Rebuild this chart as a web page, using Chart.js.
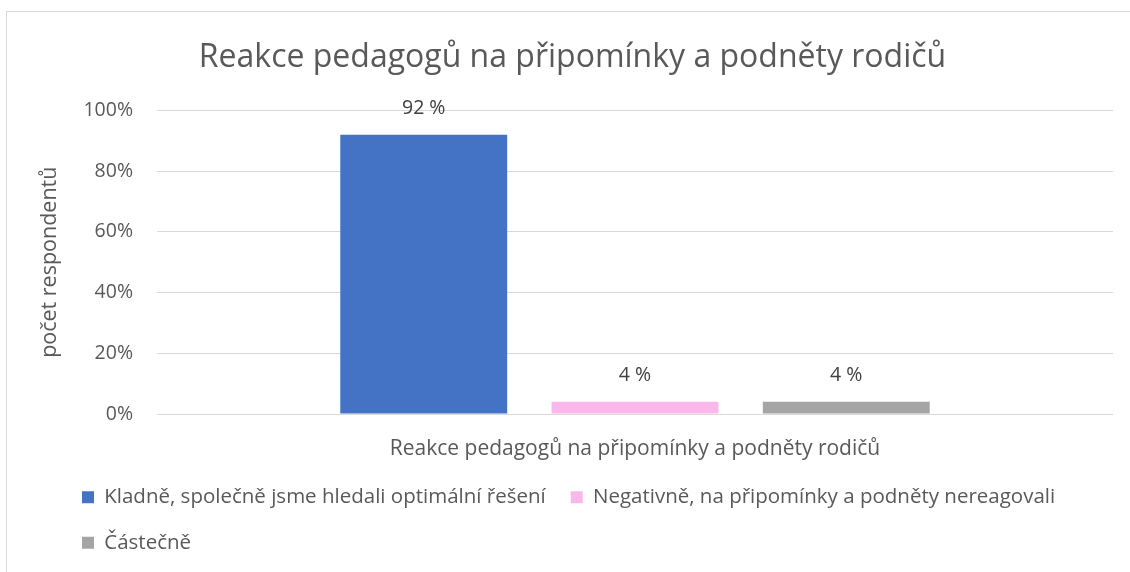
<!DOCTYPE html>
<html>
<head>
<meta charset="utf-8">
<script src="https://cdn.jsdelivr.net/npm/chart.js@4"></script>
<style>
  body { margin: 0; background: #fff; overflow: hidden; width: 1130px; height: 572px; }
  #frame { position: absolute; left: 6px; top: 11px; border-left: 1px solid #d9d9d9; border-top: 1px solid #d9d9d9; }
  canvas { display: block; }
</style>
</head>
<body>
<div id="frame"><canvas id="chart" width="1131" height="568"></canvas></div>
<script>
const categories = ["Reakce pedagogů na připomínky a podněty rodičů"];
const seriesNames = [
  "Kladně, společně jsme hledali optimální řešení",
  "Negativně, na připomínky a podněty nereagovali",
  "Částečně"
];
const positive = [92];
const negative = [4];
const partial = [4];
const seriesColors = ["#4472C4", "#FAB8EA", "#A5A5A5"];

const font = "'Open Sans', 'Noto Sans', sans-serif";
const grey = "#595959";

// data labels above the bars ("92 %")
const barLabels = {
  id: "barLabels",
  afterDatasetsDraw(chart) {
    const ctx = chart.ctx;
    ctx.save();
    ctx.font = "19.5px " + font;
    ctx.fillStyle = "#404040";
    ctx.textAlign = "center";
    ctx.textBaseline = "middle";
    chart.data.datasets.forEach((ds, i) => {
      chart.getDatasetMeta(i).data.forEach((bar, j) => {
        ctx.fillText(ds.data[j] + " %", bar.x, bar.y - 26);
      });
    });
    ctx.restore();
  }
};

// Excel-like legend: indented on the left, wraps after two items
const legendWidth = 1065;
const legendIndent = {
  id: "legendIndent",
  beforeLayout(chart) {
    const lg = chart.legend;
    if (!lg || lg._narrowFit) return;
    const fit = lg.fit.bind(lg);
    lg.fit = function () {
      this.maxWidth = Math.min(this.maxWidth, legendWidth);
      fit();
    };
    lg._narrowFit = true;
  },
  afterLayout(chart) {
    const lg = chart.legend;
    if (!lg) return;
    lg.left = 50;
    lg.right = 50 + legendWidth;
  }
};

new Chart(document.getElementById("chart"), {
  type: "bar",
  data: {
    labels: categories,
    datasets: [
      { label: seriesNames[0], data: positive, backgroundColor: seriesColors[0] },
      { label: seriesNames[1], data: negative, backgroundColor: seriesColors[1] },
      { label: seriesNames[2], data: partial, backgroundColor: seriesColors[2] }
    ]
  },
  options: {
    responsive: false,
    devicePixelRatio: 1,
    animation: false,
    categoryPercentage: 0.663,
    barPercentage: 0.79,
    layout: { padding: { left: 25, right: 25, top: 0, bottom: 17 } },
    plugins: {
      title: {
        display: true,
        text: "Reakce pedagogů na připomínky a podněty rodičů",
        color: grey,
        font: { family: font, size: 32, weight: "normal", lineHeight: 1.2 },
        padding: { top: 27, bottom: 33 }
      },
      legend: {
        position: "bottom",
        align: "start",
        labels: {
          color: grey,
          font: { family: font, size: 20.5 },
          boxWidth: 12,
          boxHeight: 12,
          padding: 25
        }
      },
      tooltip: { enabled: false }
    },
    scales: {
      x: {
        grid: { display: false },
        border: { display: false },
        ticks: { color: grey, font: { family: font, size: 21 }, padding: 14 },
        afterFit(scale) { scale.height = 48; }
      },
      y: {
        min: 0,
        max: 100,
        ticks: {
          stepSize: 20,
          color: grey,
          font: { family: font, size: 19.5 },
          padding: 24,
          callback: v => v + "%"
        },
        grid: { color: "#d9d9d9", drawTicks: false },
        border: { display: false },
        title: {
          display: true,
          text: "počet respondentů",
          color: grey,
          font: { family: font, size: 21.5 },
          padding: { top: 5, bottom: 0 }
        },
        afterFit(scale) { scale.width = 125; }
      }
    }
  },
  plugins: [barLabels, legendIndent]
});
</script>
</body>
</html>
